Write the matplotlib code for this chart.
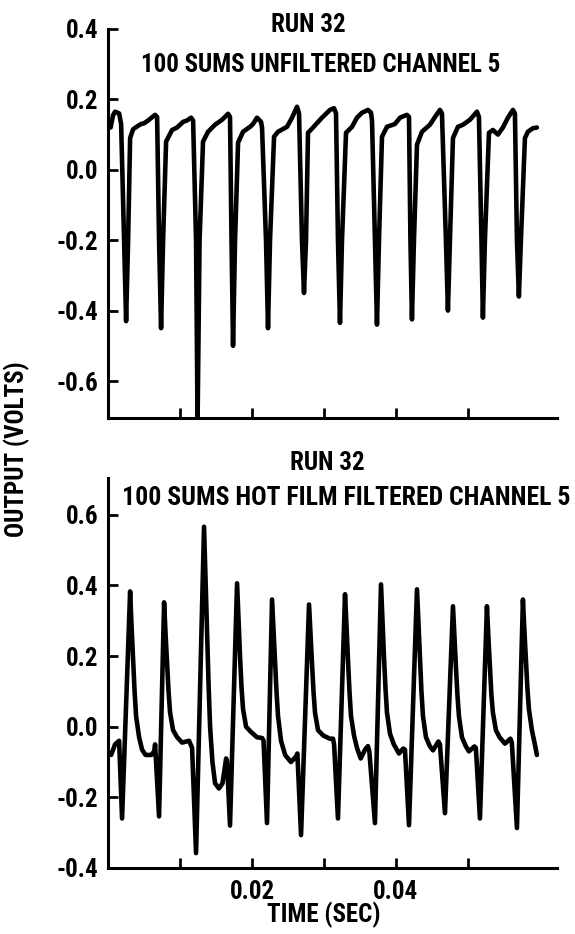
import numpy as np
import matplotlib
matplotlib.use("Agg")
import matplotlib.pyplot as plt
from matplotlib import font_manager as fm

plt.rcParams['axes.unicode_minus'] = False

installed = {f.name for f in fm.fontManager.ttflist}
narrow_pref = ['Roboto Condensed', 'PT Sans Narrow', 'Archivo Narrow',
               'Fira Sans Condensed', 'Liberation Sans Narrow']
NARROW_NAME = next((n for n in narrow_pref if n in installed), 'DejaVu Sans')
NARROW = [NARROW_NAME, 'DejaVu Sans']

# ---- data (time in ms, output in volts) ----
top_ms = [0.35, 0.69, 0.97, 1.53, 1.81,
          2.22, 2.50, 2.78, 3.06, 3.47, 4.17, 4.58, 5.00, 5.56, 6.53, 6.81,
          7.08, 7.36, 7.64, 8.06, 8.89, 9.58, 10.42, 10.97, 11.53, 11.81,
          12.22, 12.43, 12.71, 13.19, 13.89, 14.86, 15.83, 16.67, 16.94,
          17.15, 17.36, 17.64, 18.06, 18.75, 19.72, 20.14, 20.69, 21.25, 21.39,
          21.94, 22.22, 22.50, 23.06, 23.61, 24.86, 25.56, 26.25, 26.53,
          26.94, 27.22, 27.50, 27.78, 28.47, 29.72, 30.83, 31.39, 31.67,
          31.94, 32.22, 32.50, 33.06, 33.89, 34.58, 35.28, 36.11, 36.53, 36.67,
          37.08, 37.36, 37.64, 38.06, 38.75, 39.86, 40.56, 41.53, 41.81,
          42.01, 42.22, 42.50, 42.92, 43.61, 44.72, 45.42, 46.11, 46.39,
          46.94, 47.22, 47.50, 47.92, 48.61, 49.31, 50.28, 51.25, 51.53,
          51.88, 52.08, 52.36, 52.92, 53.47, 54.17, 54.86, 55.56, 56.25, 56.53,
          56.81, 57.08, 57.36, 57.92, 58.33, 59.03, 59.58]
top_v = [0.12, 0.155, 0.165, 0.16, 0.13,
         -0.2, -0.43, -0.2, 0.09, 0.115, 0.125, 0.13, 0.132, 0.14, 0.156, 0.15,
         -0.2, -0.45, -0.2, 0.08, 0.113, 0.12, 0.136, 0.14, 0.148, 0.14,
         -0.2, -0.72, -0.2, 0.08, 0.108, 0.128, 0.142, 0.159, 0.15,
         -0.2, -0.50, -0.2, 0.077, 0.108, 0.122, 0.13, 0.148, 0.136, 0.12,
         -0.2, -0.45, -0.2, 0.094, 0.108, 0.122, 0.148, 0.179, 0.16,
         -0.2, -0.35, -0.2, 0.105, 0.12, 0.148, 0.17, 0.175, 0.16,
         -0.2, -0.435, -0.2, 0.105, 0.122, 0.148, 0.162, 0.17, 0.162, 0.14,
         -0.2, -0.44, -0.2, 0.094, 0.122, 0.13, 0.148, 0.156, 0.15,
         -0.2, -0.425, -0.2, 0.071, 0.108, 0.128, 0.15, 0.17, 0.16,
         -0.2, -0.40, -0.2, 0.09, 0.122, 0.128, 0.142, 0.165, 0.15,
         -0.2, -0.42, -0.2, 0.105, 0.113, 0.10, 0.12, 0.148, 0.17, 0.16,
         -0.2, -0.36, -0.2, 0.09, 0.108, 0.118, 0.12]

bot_ms = [0.42, 0.97, 1.53, 1.94,
          3.06, 3.27, 3.47, 3.68, 3.89, 4.31, 4.72, 5.20, 6.00, 6.40, 6.53, 7.08,
          7.78, 7.99, 8.19, 8.40, 8.61, 9.03, 9.60, 10.28, 11.25, 11.67, 12.22,
          13.33, 13.54, 13.75, 13.96, 14.17, 14.50, 14.86, 15.40, 15.90, 16.11, 16.40, 16.53, 16.94,
          17.92, 18.13, 18.33, 18.54, 18.75, 19.17, 19.86, 20.69, 21.40, 21.60, 22.08,
          22.78, 22.99, 23.19, 23.40, 23.61, 24.03, 24.60, 25.40, 26.10, 26.30, 26.81,
          27.92, 28.13, 28.33, 28.54, 28.75, 29.17, 29.90, 30.80, 31.25, 31.40, 31.94,
          32.92, 33.13, 33.33, 33.54, 33.75, 34.17, 34.58, 35.10, 35.70, 36.10, 36.30, 37.08,
          37.92, 38.13, 38.33, 38.54, 38.75, 39.17, 39.70, 40.42, 41.00, 41.25, 41.81,
          42.92, 43.13, 43.33, 43.54, 43.75, 44.17, 44.70, 45.14, 45.90, 46.11, 46.81,
          47.92, 48.13, 48.33, 48.54, 48.75, 49.17, 49.70, 50.14, 50.90, 51.10, 51.67,
          52.64, 52.85, 53.06, 53.26, 53.47, 53.89, 54.40, 55.14, 55.90, 56.10, 56.81,
          57.64, 57.85, 58.06, 58.26, 58.47, 58.89, 59.30, 59.58]
bot_v = [-0.08, -0.05, -0.04, -0.26,
         0.383, 0.28, 0.19, 0.10, 0.03, -0.03, -0.065, -0.08, -0.08, -0.07, -0.05, -0.254,
         0.352, 0.26, 0.18, 0.10, 0.04, -0.01, -0.03, -0.045, -0.04, -0.06, -0.358,
         0.566, 0.42, 0.28, 0.12, 0.0, -0.10, -0.16, -0.175, -0.16, -0.13, -0.09, -0.10, -0.28,
         0.406, 0.30, 0.20, 0.11, 0.05, 0.0, -0.015, -0.03, -0.032, -0.04, -0.273,
         0.36, 0.27, 0.18, 0.10, 0.03, -0.04, -0.08, -0.10, -0.085, -0.076, -0.307,
         0.346, 0.26, 0.18, 0.10, 0.04, -0.01, -0.025, -0.034, -0.034, -0.05, -0.26,
         0.375, 0.285, 0.19, 0.10, 0.03, -0.025, -0.06, -0.09, -0.065, -0.055, -0.07, -0.273,
         0.403, 0.30, 0.20, 0.11, 0.04, -0.02, -0.05, -0.076, -0.062, -0.065, -0.279,
         0.389, 0.29, 0.19, 0.10, 0.03, -0.03, -0.055, -0.067, -0.042, -0.05, -0.245,
         0.341, 0.25, 0.17, 0.09, 0.03, -0.03, -0.055, -0.07, -0.056, -0.06, -0.26,
         0.341, 0.25, 0.17, 0.09, 0.04, -0.01, -0.03, -0.048, -0.034, -0.045, -0.287,
         0.36, 0.27, 0.19, 0.11, 0.05, -0.01, -0.05, -0.08]

top_yticks = [-0.6, -0.4, -0.2, 0.0, 0.2, 0.4]
bot_yticks = [-0.4, -0.2, 0.0, 0.2, 0.4, 0.6]
x_ticks = [0.01, 0.02, 0.03, 0.04, 0.05]
x_ticklabels = ['', '0.02', '', '0.04', '']

fig = plt.figure(figsize=(5.75, 9.34), dpi=100)
ax1 = fig.add_axes([0.188, 0.5525, 0.781, 0.4165])
ax2 = fig.add_axes([0.188, 0.0707, 0.781, 0.4175])

for ax, t, v, yt, ylim in [(ax1, top_ms, top_v, top_yticks, (-0.705, 0.40)),
                           (ax2, bot_ms, bot_v, bot_yticks, (-0.40, 0.704))]:
    ax.plot(np.array(t) / 1000.0, v, color='black', lw=3.3,
            solid_joinstyle='round', solid_capstyle='round')
    ax.set_xlim(0, 0.0624)
    ax.set_ylim(*ylim)
    for s in ['top', 'right']:
        ax.spines[s].set_visible(False)
    for s in ['left', 'bottom']:
        ax.spines[s].set_linewidth(2.2)
    ax.set_yticks(yt)
    ax.set_yticklabels([f"{y:.1f}" for y in yt], family=NARROW,
                       fontweight='bold', fontsize=18)
    ax.set_xticks(x_ticks)
    ax.tick_params(direction='in', length=7, width=2.0, pad=7)

ax1.set_xticklabels([])
ax2.set_xticklabels(x_ticklabels, family=NARROW, fontweight='bold', fontsize=18)
ax2.tick_params(axis='x', pad=9)

fig.text(0.536, 0.973, "RUN 32", ha='center', va='center',
         family=NARROW, fontweight='bold', fontsize=18)
fig.text(0.557, 0.930, "100 SUMS UNFILTERED CHANNEL 5", ha='center', va='center',
         family=NARROW, fontweight='bold', fontsize=18)
fig.text(0.569, 0.504, "RUN 32", ha='center', va='center',
         family=NARROW, fontweight='bold', fontsize=18)
fig.text(0.602, 0.467, "100 SUMS HOT FILM FILTERED CHANNEL 5", ha='center', va='center',
         family=NARROW, fontweight='bold', fontsize=18.5)
fig.text(0.030, 0.519, "OUTPUT (VOLTS)", ha='center', va='center', rotation=90,
         family=NARROW, fontweight='bold', fontsize=18)
fig.text(0.563, 0.020, "TIME (SEC)", ha='center', va='center',
         family=NARROW, fontweight='bold', fontsize=18)

fig.savefig('out.png', dpi=100)
